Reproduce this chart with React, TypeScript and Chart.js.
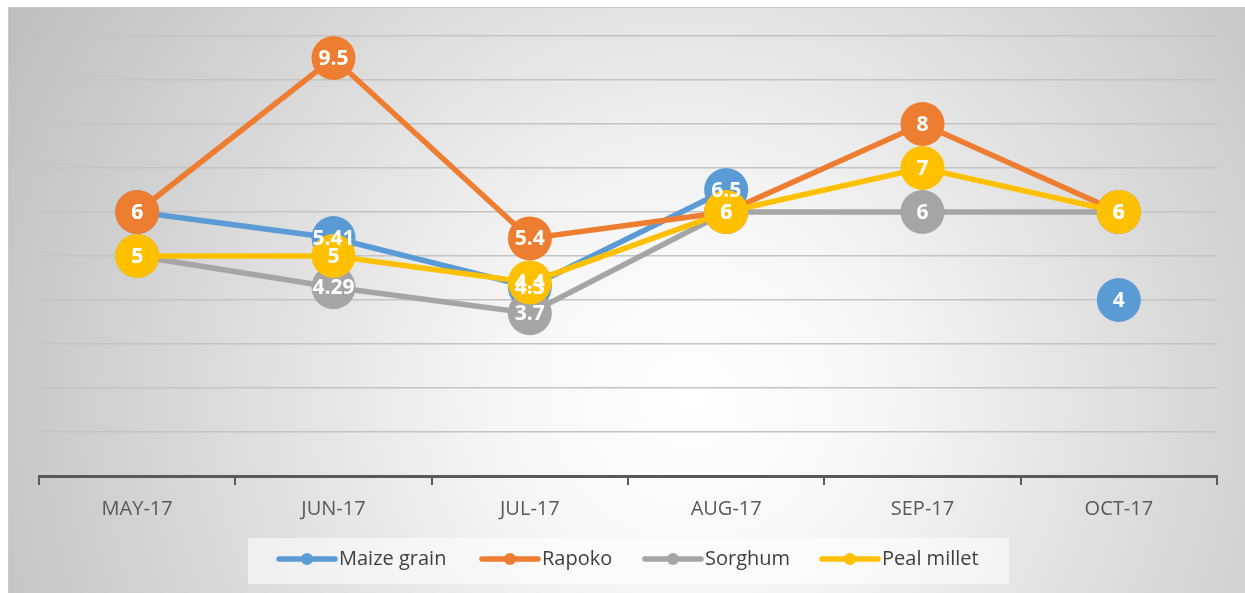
import React, { useEffect, useRef } from "react";
import { Chart, registerables } from "chart.js";

Chart.register(...registerables);

const categories = ["MAY-17", "JUN-17", "JUL-17", "AUG-17", "SEP-17", "OCT-17"];
const maizeGrain: (number | null)[] = [6, 5.41, 4.3, 6.5, null, 4];
const rapoko: (number | null)[] = [6, 9.5, 5.4, 6, 8, 6];
const sorghum: (number | null)[] = [5, 4.29, 3.7, 6, 6, 6];
const pealMillet: (number | null)[] = [5, 5, 4.4, 6, 7, 6];
const seriesNames = ["Maize grain", "Rapoko", "Sorghum", "Peal millet"];
const seriesColors = ["#5B9BD5", "#ED7D31", "#A5A5A5", "#FFC000"];

const FONT = "'Open Sans', 'Noto Sans', sans-serif";

const bgPlugin = {
  id: "bgPlugin",
  beforeDraw(chart: any) {
    const ctx = chart.ctx;
    const w = chart.width;
    const h = chart.height;
    ctx.save();
    const g = ctx.createRadialGradient(690, 400, 0, 690, 400, 760);
    g.addColorStop(0, "#ffffff");
    g.addColorStop(0.25, "#f6f6f6");
    g.addColorStop(1, "#c0c0c0");
    ctx.fillStyle = g;
    ctx.fillRect(8, 7, w - 8, h - 7);
    ctx.strokeStyle = "#c8c8c8";
    ctx.lineWidth = 1;
    ctx.beginPath();
    ctx.moveTo(8.5, h);
    ctx.lineTo(8.5, 7.5);
    ctx.lineTo(w, 7.5);
    ctx.stroke();
    ctx.restore();
  },
};

const labelPlugin = {
  id: "labelPlugin",
  afterDatasetsDraw(chart: any) {
    const ctx = chart.ctx;
    ctx.save();
    ctx.font = `bold 21px ${FONT}`;
    ctx.fillStyle = "#ffffff";
    ctx.textAlign = "center";
    ctx.textBaseline = "middle";
    const order = [0, 1, 2, 3];
    order.forEach((di) => {
      const meta = chart.getDatasetMeta(di);
      const ds = chart.data.datasets[di];
      meta.data.forEach((pt: any, i: number) => {
        const v = ds.data[i];
        if (v === null || v === undefined) return;
        ctx.fillText(String(v), pt.x, pt.y + 1);
      });
    });
    ctx.restore();
  },
};

const legendPlugin = {
  id: "customLegend",
  afterDraw(chart: any) {
    const ctx = chart.ctx;
    ctx.save();
    ctx.fillStyle = "rgba(255,255,255,0.55)";
    ctx.fillRect(248, 538, 761, 46);
    const markerX = [279, 482, 645, 822];
    const cy = 559;
    ctx.font = `20px ${FONT}`;
    ctx.textBaseline = "middle";
    ctx.textAlign = "left";
    chart.data.datasets.forEach((ds: any, i: number) => {
      const x0 = markerX[i];
      ctx.strokeStyle = ds.borderColor;
      ctx.lineWidth = 5.5;
      ctx.lineCap = "round";
      ctx.beginPath();
      ctx.moveTo(x0, cy);
      ctx.lineTo(x0 + 56, cy);
      ctx.stroke();
      ctx.fillStyle = ds.borderColor;
      ctx.beginPath();
      ctx.arc(x0 + 28, cy, 6, 0, Math.PI * 2);
      ctx.fill();
      ctx.fillStyle = "#404040";
      ctx.fillText(ds.label, x0 + 60, cy);
    });
    ctx.restore();
  },
};

export default function App() {
  const ref = useRef<HTMLCanvasElement | null>(null);

  useEffect(() => {
    if (!ref.current) return;
    const seriesData = [maizeGrain, rapoko, sorghum, pealMillet];
    const chart = new Chart(ref.current, {
      type: "line",
      data: {
        labels: categories,
        datasets: seriesData.map((d, i) => ({
          label: seriesNames[i],
          data: d,
          borderColor: seriesColors[i],
          backgroundColor: seriesColors[i],
          pointBackgroundColor: seriesColors[i],
          pointBorderColor: seriesColors[i],
          borderWidth: 5.5,
          pointRadius: 22,
          pointBorderWidth: 0,
          pointHoverRadius: 22,
          spanGaps: false,
          tension: 0,
          fill: false,
          order: 4 - i,
          clip: false as any,
        })),
      },
      options: {
        responsive: false,
        animation: false,
        events: [],
        layout: { padding: { left: 39, right: 28, top: 36, bottom: 0 } },
        plugins: {
          legend: { display: false },
          tooltip: { enabled: false },
        },
        scales: {
          x: {
            offset: true,
            grid: {
              offset: true,
              drawOnChartArea: false,
              drawTicks: true,
              tickLength: 9,
              color: "#595959",
              lineWidth: 2,
            },
            border: { display: true, color: "#595959", width: 3 },
            ticks: {
              color: "#595959",
              font: { family: FONT, size: 20 },
              padding: 12,
              maxRotation: 0,
            },
            afterFit: (scale: any) => {
              scale.height = 117;
            },
          },
          y: {
            min: 0,
            max: 10,
            ticks: { display: false, stepSize: 1 },
            grid: {
              color: (c: any) => (c.tick && c.tick.value === 0 ? "rgba(0,0,0,0)" : "#c4c4c4"),
              lineWidth: 1.5,
              drawTicks: false,
            },
            border: { display: false },
            afterFit: (scale: any) => {
              scale.width = 0;
            },
          },
        },
      },
      plugins: [bgPlugin, labelPlugin, legendPlugin],
    });
    return () => chart.destroy();
  }, []);

  return (
    <div style={{ position: "absolute", left: 0, top: 0, width: 1245, height: 593 }}>
      <canvas ref={ref} width={1245} height={593} style={{ display: "block", width: 1245, height: 593 }} />
    </div>
  );
}
